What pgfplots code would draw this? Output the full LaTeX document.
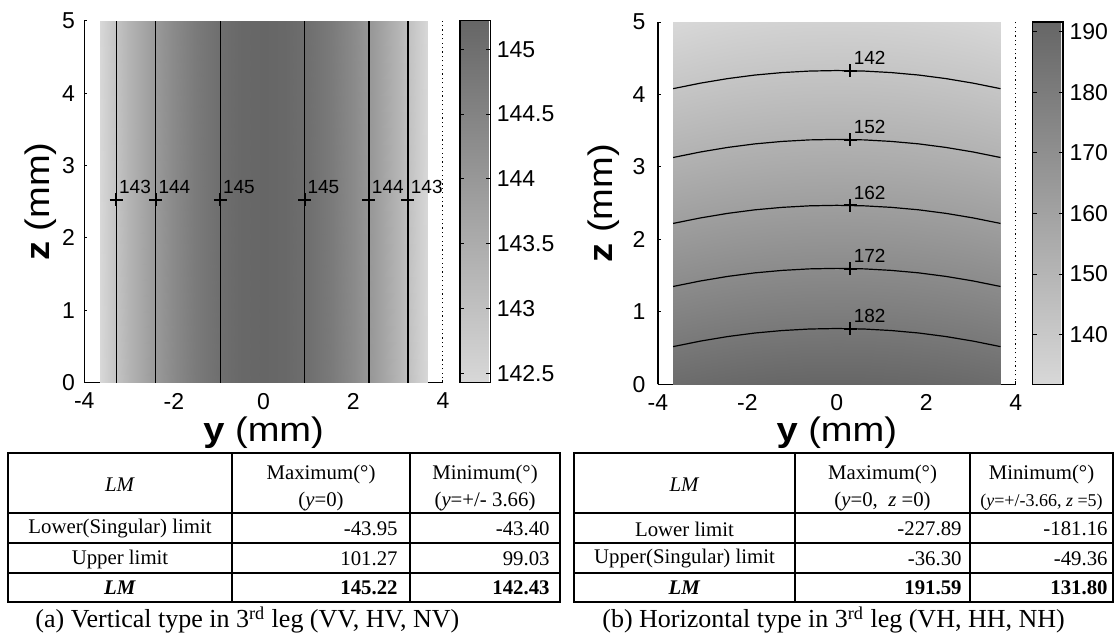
\documentclass[border=0pt]{standalone}
\usepackage{fontspec}
\setmainfont{Liberation Serif}
\newfontfamily\arial{Liberation Sans}
\newfontfamily\arialw{Liberation Sans}[FakeStretch=1.12]
\newfontfamily\tnr{Liberation Serif}
\usepackage{pgfplots}
\pgfplotsset{compat=1.18}
\usepackage{pgfplotstable}

\newcommand{\tickfont}{\arial\fontsize{11.5}{13}\selectfont}
\newcommand{\labfont}{\arialw\fontsize{17}{19}\selectfont}
\newcommand{\cfont}{\arial\fontsize{9.5}{11}\selectfont}
\newcommand{\tabfont}{\tnr\fontsize{10.4}{12}\selectfont}
\newcommand{\capfont}{\tnr\fontsize{13}{15}\selectfont}

\pgfplotsset{
  lmplot/.style={
    scale only axis, anchor=south west,
    xmin=-4, xmax=4, ymin=0, ymax=5,
    axis x line*=bottom, axis y line*=left,
    axis line style={-, line width=0.7pt, black},
    xtick={-4,-2,0,2,4}, xticklabels={-4,-2,0,2,4},
    ytick={0,1,2,3,4,5}, yticklabels={0,1,2,3,4,5},
    tick align=inside, major tick length=1.5pt,
    tick style={line width=0.5pt, black},
    xticklabel style={font=\tickfont, anchor=north, inner sep=0pt, yshift=-5pt},
    label style={font=\labfont},
    colormap={lmgray}{rgb255(0cm)=(216,216,216); rgb255(1cm)=(102,102,102)},
    colorbar,
    clip=false,
  },
  cbar/.style={
    at={(parent axis.north east)}, anchor=north west,
    width=15.2pt, scale only axis,
    axis line style={line width=0.7pt, black},
    tick align=inside, major tick length=2pt,
    tick style={line width=0.5pt, black},
    ytick pos=both, yticklabel pos=right,
    yticklabel style={font=\tickfont, anchor=west, inner sep=0pt, xshift=3pt},
  },
  cline/.style={black, line width=0.6pt, no marks},
  clab/.style={only marks, mark=+, mark size=3.25pt, black,
    mark options={line width=1pt},
    point meta=explicit symbolic, nodes near coords,
    every node near coord/.append style={font=\cfont, black, anchor=south west, inner sep=0pt, xshift=1pt, yshift=2.5pt}},
}

\begin{document}
\begin{tikzpicture}
\useasboundingbox (0,0) rectangle (557pt,318.5pt);

% ---------------- left plot (a) ----------------
\begin{axis}[lmplot,
  at={(42.15pt,127.15pt)}, width=179.3pt, height=181pt,
  yticklabel style={font=\tickfont, anchor=east, inner sep=0pt, xshift=-4.5pt},
  xlabel={\textbf{y} (mm)}, ylabel={\textbf{z} (mm)},
  xlabel style={at={(axis description cs:0.5,0)}, anchor=center, yshift=-24.9pt},
  ylabel style={at={(axis description cs:-0.1207,0.5)}, anchor=center},
  point meta min=142.43, point meta max=145.22,
  colorbar style={cbar,
    ytick={142.5,143,143.5,144,144.5,145},
    yticklabels={142.5,143,143.5,144,144.5,145}},
]
\addplot[surf, shader=interp, mesh/cols=17, point meta=explicit] table[x=y, y=z, meta=v] {
y z v
-3.66 0 142.43
-3.5 0 142.66
-3 0 143.31
-2.5 0 143.88
-2 0 144.35
-1.5 0 144.73
-1 0 145.00
-0.5 0 145.16
0 0 145.22
0.5 0 145.16
1 0 145.00
1.5 0 144.73
2 0 144.35
2.5 0 143.88
3 0 143.31
3.5 0 142.66
3.66 0 142.43
-3.66 5 142.43
-3.5 5 142.66
-3 5 143.31
-2.5 5 143.88
-2 5 144.35
-1.5 5 144.73
-1 5 145.00
-0.5 5 145.16
0 5 145.22
0.5 5 145.16
1 5 145.00
1.5 5 144.73
2 5 144.35
2.5 5 143.88
3 5 143.31
3.5 5 142.66
3.66 5 142.43
};
\addplot[cline] coordinates {(-3.29,0) (-3.29,5)};
\addplot[cline] coordinates {(-2.41,0) (-2.41,5)};
\addplot[cline] coordinates {(-0.97,0) (-0.97,5)};
\addplot[cline] coordinates {(0.915,0) (0.915,5)};
\addplot[cline] coordinates {(2.35,0) (2.35,5)};
\addplot[cline] coordinates {(3.22,0) (3.22,5)};
\addplot[clab] coordinates {(-3.29,2.53) [143] (-2.41,2.53) [144] (-0.97,2.53) [145]
  (0.915,2.53) [145] (2.35,2.53) [144] (3.22,2.53) [143]};
\draw[black, line width=0.6pt, dash pattern=on 0.6pt off 1.6pt] (rel axis cs:1,0) -- (rel axis cs:1,1);
\end{axis}

% ---------------- right plot (b) ----------------
\begin{axis}[lmplot,
  at={(328.95pt,126.35pt)}, width=178.9pt, height=181.15pt,
  yticklabel style={font=\tickfont, anchor=east, inner sep=0pt, xshift=-6pt},
  xlabel={\textbf{y} (mm)}, ylabel={\textbf{z} (mm)},
  xlabel style={at={(axis description cs:0.5,0)}, anchor=center, yshift=-24.35pt},
  ylabel style={at={(axis description cs:-0.1506,0.5)}, anchor=center},
  point meta min=131.80, point meta max=191.59,
  colorbar style={cbar,
    ytick={140,150,160,170,180,190},
    yticklabels={140,150,160,170,180,190}},
]
\addplot[surf, shader=interp, mesh/cols=11, point meta=explicit] table[x=y, y=z, meta=v] {
y z v
-3.66 0 188.44
-3 0 189.48
-2.25 0 190.40
-1.5 0 191.06
-0.75 0 191.46
0 0 191.59
0.75 0 191.46
1.5 0 191.06
2.25 0 190.40
3 0 189.48
3.66 0 188.44
-3.66 1 176.05
-3 1 177.09
-2.25 1 178.01
-1.5 1 178.67
-0.75 1 179.07
0 1 179.20
0.75 1 179.07
1.5 1 178.67
2.25 1 178.01
3 1 177.09
3.66 1 176.05
-3.66 2 164.20
-3 2 165.24
-2.25 2 166.16
-1.5 2 166.82
-0.75 2 167.22
0 2 167.35
0.75 2 167.22
1.5 2 166.82
2.25 2 166.16
3 2 165.24
3.66 2 164.20
-3.66 3 152.91
-3 3 153.95
-2.25 3 154.87
-1.5 3 155.53
-0.75 3 155.93
0 3 156.06
0.75 3 155.93
1.5 3 155.53
2.25 3 154.87
3 3 153.95
3.66 3 152.91
-3.66 4 142.16
-3 4 143.20
-2.25 4 144.12
-1.5 4 144.78
-0.75 4 145.18
0 4 145.31
0.75 4 145.18
1.5 4 144.78
2.25 4 144.12
3 4 143.20
3.66 4 142.16
-3.66 5 131.80
-3 5 133.01
-2.25 5 133.93
-1.5 5 134.59
-0.75 5 134.99
0 5 135.12
0.75 5 134.99
1.5 5 134.59
2.25 5 133.93
3 5 133.01
3.66 5 131.80
};
\addplot[cline] coordinates {(-3.66,4.08) (-3.05,4.156) (-2.44,4.219) (-1.83,4.268) (-1.22,4.302) (-0.61,4.323) (0,4.33) (0.61,4.323) (1.22,4.302) (1.83,4.268) (2.44,4.219) (3.05,4.156) (3.66,4.08)};
\addplot[cline] coordinates {(-3.66,3.13) (-3.05,3.206) (-2.44,3.269) (-1.83,3.318) (-1.22,3.352) (-0.61,3.373) (0,3.38) (0.61,3.373) (1.22,3.352) (1.83,3.318) (2.44,3.269) (3.05,3.206) (3.66,3.13)};
\addplot[cline] coordinates {(-3.66,2.22) (-3.05,2.296) (-2.44,2.359) (-1.83,2.408) (-1.22,2.442) (-0.61,2.463) (0,2.47) (0.61,2.463) (1.22,2.442) (1.83,2.408) (2.44,2.359) (3.05,2.296) (3.66,2.22)};
\addplot[cline] coordinates {(-3.66,1.35) (-3.05,1.426) (-2.44,1.489) (-1.83,1.538) (-1.22,1.572) (-0.61,1.593) (0,1.60) (0.61,1.593) (1.22,1.572) (1.83,1.538) (2.44,1.489) (3.05,1.426) (3.66,1.35)};
\addplot[cline] coordinates {(-3.66,0.52) (-3.05,0.596) (-2.44,0.659) (-1.83,0.708) (-1.22,0.742) (-0.61,0.763) (0,0.77) (0.61,0.763) (1.22,0.742) (1.83,0.708) (2.44,0.659) (3.05,0.596) (3.66,0.52)};
\addplot[clab, every node near coord/.append style={xshift=0.3pt}] coordinates {(0.3,4.328) [142] (0.3,3.378) [152] (0.3,2.468) [162] (0.3,1.598) [172] (0.3,0.768) [182]};
\draw[black, line width=0.6pt, dash pattern=on 0.6pt off 1.6pt] (rel axis cs:1,0) -- (rel axis cs:1,1);
\end{axis}

% ---------------- tables and captions (pixel coordinates, origin top left) ----------------
\begin{scope}[shift={(0pt,318.5pt)}, x=0.5pt, y=-0.5pt]
  % left table
  \draw[line width=1pt] (8.3,453) rectangle (560,602);
  \draw[line width=0.8pt] (8.3,513) -- (560,513);
  \draw[line width=0.8pt] (8.3,543) -- (560,543);
  \draw[line width=0.8pt] (8.3,573) -- (560,573);
  \draw[line width=0.8pt] (232,453) -- (232,602);
  \draw[line width=0.8pt] (410,453) -- (410,602);
  \begin{scope}[every node/.style={font=\tabfont, inner sep=0pt}]
    \node at (120,485) {\textit{LM}};
    \node at (321,475) {Maximum(°)};
    \node at (321,502) {(\textit{y}=0)};
    \node at (485,475) {Minimum(°)};
    \node at (485,502) {(\textit{y}=+/- 3.66)};
    \node at (120,529) {Lower(Singular) limit};
    \node[anchor=east] at (398,529) {-43.95};
    \node[anchor=east] at (550,529) {-43.40};
    \node at (120,559) {Upper limit};
    \node[anchor=east] at (398,559) {101.27};
    \node[anchor=east] at (550,559) {99.03};
    \node at (120,588) {\textbf{\textit{LM}}};
    \node[anchor=east] at (398,588) {\textbf{145.22}};
    \node[anchor=east] at (550,588) {\textbf{142.43}};
  \end{scope}
  \node[font=\capfont, anchor=west, inner sep=0pt] at (35,620) {(a) Vertical type in 3\textsuperscript{rd} leg (VV, HV, NV)};
  % right table
  \draw[line width=1pt] (574,453) rectangle (1113,602);
  \draw[line width=0.8pt] (574,513) -- (1113,513);
  \draw[line width=0.8pt] (574,543) -- (1113,543);
  \draw[line width=0.8pt] (574,573) -- (1113,573);
  \draw[line width=0.8pt] (795,453) -- (795,602);
  \draw[line width=0.8pt] (970,453) -- (970,602);
  \begin{scope}[every node/.style={font=\tabfont, inner sep=0pt}]
    \node at (684.5,485) {\textit{LM}};
    \node at (882.5,475) {Maximum(°)};
    \node at (882.5,502) {(\textit{y}=0,\ \ \textit{z} =0)};
    \node at (1041.5,475) {Minimum(°)};
    \node[font=\tnr\fontsize{9}{10}\selectfont] at (1041.5,502) {(\textit{y}=+/-3.66, \textit{z} =5)};
    \node at (684.5,529) {Lower limit};
    \node[anchor=east] at (962,529) {-227.89};
    \node[anchor=east] at (1108,529) {-181.16};
    \node at (684.5,559) {Upper(Singular) limit};
    \node[anchor=east] at (962,559) {-36.30};
    \node[anchor=east] at (1108,559) {-49.36};
    \node at (684.5,588) {\textbf{\textit{LM}}};
    \node[anchor=east] at (962,588) {\textbf{191.59}};
    \node[anchor=east] at (1108,588) {\textbf{131.80}};
  \end{scope}
  \node[font=\capfont, anchor=west, inner sep=0pt] at (602,620) {(b) Horizontal type in 3\textsuperscript{rd} leg (VH, HH, NH)};
\end{scope}
\end{tikzpicture}
\end{document}
